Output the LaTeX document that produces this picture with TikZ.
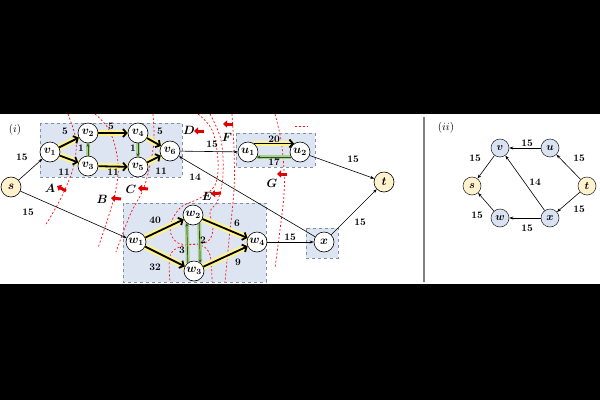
\documentclass[tikz,border=0pt]{standalone}
\usepackage{amsmath}
\usetikzlibrary{arrows.meta}
\definecolor{boxfill}{HTML}{DEE5F2}
\definecolor{boxline}{HTML}{7F8FA8}
\definecolor{glowY}{HTML}{FFF38A}
\definecolor{glowG}{HTML}{A9D18E}
\definecolor{nodeY}{HTML}{FFF2CC}
\definecolor{nodeB}{HTML}{DAE3F3}
\definecolor{cutred}{HTML}{FF1010}
\definecolor{arrred}{HTML}{E00000}
\definecolor{dgreen}{HTML}{2F4F1F}
\pgfdeclarelayer{canvas}
\pgfdeclarelayer{back}
\pgfdeclarelayer{mid}
\pgfsetlayers{canvas,back,mid,main}
\begin{document}
\begin{tikzpicture}[x=1pt,y=-1pt,
  vn/.style={circle,draw,line width=0.6pt,minimum size=20pt,inner sep=0pt,fill=white,font=\boldmath\fontsize{12}{13}\selectfont},
  pn/.style={circle,draw=black!80,line width=0.6pt,minimum size=18pt,inner sep=0pt,fill=nodeB,font=\boldmath\fontsize{11}{12}\selectfont},
  lab/.style={font=\bfseries\fontsize{10}{11}\selectfont,inner sep=0pt},
  cutlab/.style={font=\boldmath\fontsize{12}{13}\selectfont,inner sep=0pt},
  thinE/.style={line width=0.6pt,-{Stealth[length=4pt,width=3pt]}},
  thickE/.style={line width=1.8pt,-{Straight Barb[length=3.5pt,width=8pt]}},
  greenE/.style={line width=0.7pt,draw=dgreen,-{Stealth[length=3.5pt,width=3pt]}},
  glowYs/.style={draw=glowY,line width=6pt},
  glowGs/.style={draw=glowG,line width=4pt},
  cutline/.style={draw=cutred,dash pattern=on 2pt off 2pt,line width=0.7pt},
  redarr/.style={draw=arrred,line width=3pt,-{Triangle[length=4pt,width=7pt]}},
  boxst/.style={fill=boxfill,draw=boxline,dashed,line width=0.8pt}
]
\useasboundingbox (0,0) rectangle (600,400);
\begin{pgfonlayer}{canvas}
\fill[black] (0,0) rectangle (600,400);
\fill[white] (0,114) rectangle (600,284);
\end{pgfonlayer}

% nodes
\node[vn,fill=nodeY] (s) at (11,187) {$s$};
\node[vn] (v1) at (50,152) {$v_1$};
\node[vn] (v2) at (88,133) {$v_2$};
\node[vn] (v3) at (88,166) {$v_3$};
\node[vn] (v4) at (138,133) {$v_4$};
\node[vn] (v5) at (138,167) {$v_5$};
\node[vn] (v6) at (170,151) {$v_6$};
\node[vn] (u1) at (248,152) {$u_1$};
\node[vn] (u2) at (300,152) {$u_2$};
\node[vn,fill=nodeY] (t) at (384,182) {$t$};
\node[vn] (w1) at (136,242) {$w_1$};
\node[vn] (w2) at (193,215) {$w_2$};
\node[vn] (w3) at (194,271) {$w_3$};
\node[vn] (w4) at (257,242) {$w_4$};
\node[vn] (x) at (324,242) {$x$};

\begin{pgfonlayer}{back}
\draw[boxst] (40,123) rectangle (182,177);
\draw[boxst] (236,133) rectangle (315,167);
\draw[boxst] (123,203) rectangle (266,282);
\draw[boxst] (306,228) rectangle (338,258);
% cuts
\draw[cutline] plot[smooth,tension=0.6] coordinates {(68,114) (75,135) (76,152) (72,172) (60,200) (45,226)};
\draw[cutline] plot[smooth,tension=0.6] coordinates {(95,114) (108,128) (116,150) (118,175) (112,205) (98,248)};
\draw[cutline] plot[smooth,tension=0.6] coordinates {(153,114) (154,140) (150,165) (143,190) (130,215) (116,252)};
\draw[cutline] plot[smooth,tension=0.6] coordinates {(198,114) (212,130) (218,160) (215,185) (200,198) (180,208) (170,228) (178,243) (200,245) (210,255) (212,282)};
\draw[cutline] plot[smooth,tension=0.6] coordinates {(210,114) (221,140) (223,175) (218,200) (210,212) (213,228) (207,242) (182,246) (170,256) (170,282)};
\draw[cutline] plot[smooth,tension=0.6] coordinates {(232,114) (234,150) (234,190) (229,240) (225,282)};
\draw[cutline] plot[smooth,tension=0.6] coordinates {(275,114) (281,140) (284,170) (284,195) (280,230) (275,268)};
\draw[cutline] (295,126) -- (308,126);
\end{pgfonlayer}

\begin{pgfonlayer}{mid}
\foreach \a/\b in {v1/v2,v1/v3,v2/v4,v3/v5,v4/v6,v5/v6,w1/w2,w1/w3,w2/w4,w3/w4}
  \draw[glowYs] (\a.center) -- (\b.center);
\draw[glowGs] (v3.center) -- (v2.center);
\draw[glowGs] (v4.center) -- (v5.center);
\draw[glowYs,line width=5pt] (u1.55) -- (u2.125);
\draw[glowGs] (u2.-150) -- (u1.-30);
\draw[glowGs] (w3.127) -- (w2.-127);
\draw[glowGs] (w2.-53) -- (w3.53);
\end{pgfonlayer}

% thick edges
\foreach \a/\b in {v1/v2,v1/v3,v2/v4,v3/v5,v4/v6,v5/v6,w1/w2,w1/w3,w2/w4,w3/w4}
  \draw[thickE] (\a) -- (\b);
\draw[thickE] (u1.55) -- (u2.125);
% green edges
\draw[greenE] (v3) -- (v2);
\draw[greenE] (v4) -- (v5);
\draw[greenE] (u2.-150) -- (u1.-30);
\draw[greenE] (w3.127) -- (w2.-127);
\draw[greenE] (w2.-53) -- (w3.53);
% thin edges
\draw[thinE] (s) -- (v1);
\draw[thinE] (s) -- (w1);
\draw[thinE] (v6) -- (u1);
\draw[thinE] (x) -- (v6);
\draw[thinE] (u2) -- (t);
\draw[thinE] (x) -- (t);
\draw[thinE] (w4) -- (x);

% edge labels
\node[lab] (l1) at (22,157) {15};
\node[lab] (l2) at (28,212) {15};
\node[lab] (l3) at (65,131) {5};
\node[lab] (l4) at (64,172) {11};
\node[lab] (l5) at (81,148) {1};
\node[lab] (l6) at (111,126) {5};
\node[lab] (l7) at (113,172) {11};
\node[lab] (l8) at (133,148) {1};
\node[lab] (l9) at (160,131) {5};
\node[lab] (l10) at (161,171) {11};
\node[lab] (l11) at (212,144) {15};
\node[lab] (l12) at (195,177) {14};
\node[lab] (l13) at (274,139) {20};
\node[lab] (l14) at (274,162) {17};
\node[lab] (l15) at (353,159) {15};
\node[lab] (l16) at (360,222) {15};
\node[lab] (l17) at (290,237) {15};
\node[lab] (l18) at (155,220) {40};
\node[lab] (l19) at (155,267) {32};
\node[lab] (l20) at (182,250) {3};
\node[lab] (l21) at (203,240) {2};
\node[lab] (l22) at (237,223) {6};
\node[lab] (l23) at (238,262) {9};

% cut arrows and labels
\draw[redarr] (66,191) -- (57,186);
\draw[redarr] (121,199) -- (111,198);
\draw[redarr] (148,189) -- (138,188);
\draw[redarr] (204,131) -- (194,131);
\draw[redarr] (221,193) -- (211,194);
\draw[redarr] (233,124) -- (223,124);
\draw[redarr] (287,174) -- (277,174);
\node[cutlab] (cA) at (50,188) {$A$};
\node[cutlab] (cB) at (102,199) {$B$};
\node[cutlab] (cC) at (131,189) {$C$};
\node[cutlab] (cD) at (189,130) {$D$};
\node[cutlab] (cE) at (207,196) {$E$};
\node[cutlab] (cF) at (227,137) {$F$};
\node[cutlab] (cG) at (272,183) {$G$};

\node[font=\fontsize{11}{12}\selectfont] (pi) at (15,130) {$(i)$};

% separator
\draw[draw=gray,line width=1.2pt] (424,117) -- (424,282);
\node[font=\fontsize{11}{12}\selectfont] (pii) at (446,128) {$(ii)$};

% panel ii
\node[pn] (pv) at (500,148) {$v$};
\node[pn] (pu) at (550,148) {$u$};
\node[pn,fill=nodeY] (ps) at (472,186) {$s$};
\node[pn,fill=nodeY] (pt) at (587,186) {$t$};
\node[pn] (pw) at (500,218) {$w$};
\node[pn] (px) at (550,218) {$x$};
\draw[thinE] (pu) -- (pv);
\draw[thinE] (pt) -- (pu);
\draw[thinE] (pv) -- (ps);
\draw[thinE] (px) -- (pv);
\draw[thinE] (pt) -- (px);
\draw[thinE] (pw) -- (ps);
\draw[thinE] (px) -- (pw);
\node[lab] (m1) at (527,143) {15};
\node[lab] (m2) at (579,158) {15};
\node[lab] (m3) at (475,158) {15};
\node[lab] (m4) at (535,182) {14};
\node[lab] (m5) at (579,209) {15};
\node[lab] (m6) at (477,215) {15};
\node[lab] (m7) at (527,228) {15};
\end{tikzpicture}
\end{document}
